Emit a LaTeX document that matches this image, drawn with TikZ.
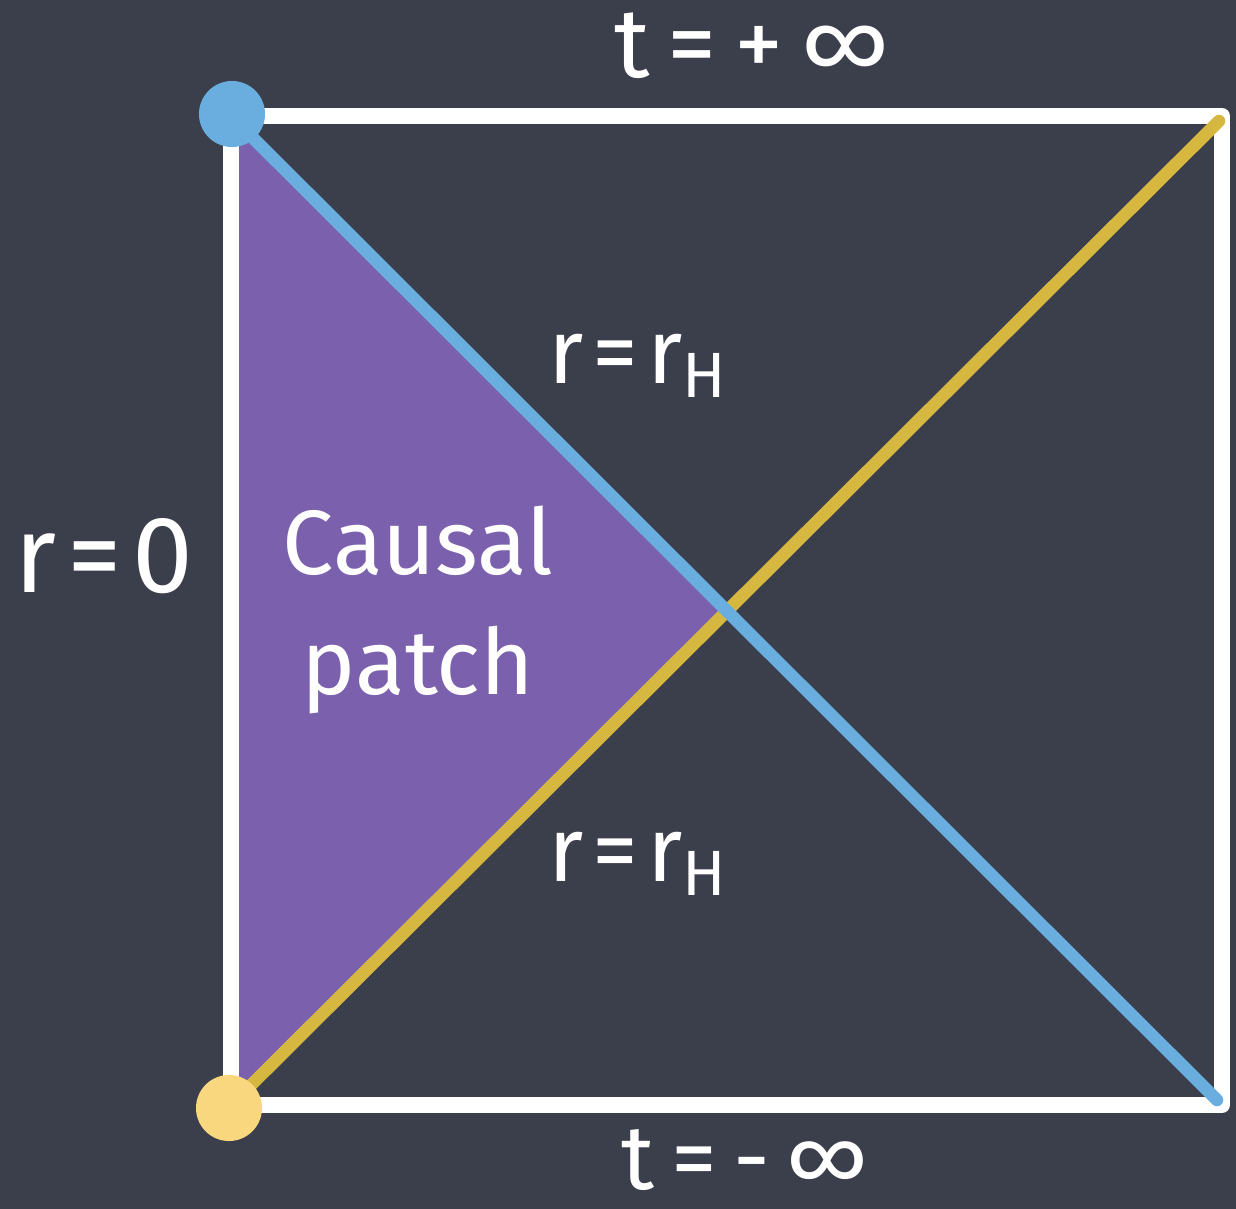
\documentclass[tikz,border=0pt]{standalone}
\usepackage{fontspec}
\setmainfont{Fira Sans}
\definecolor{board}{HTML}{3B3F4B}
\definecolor{chalkblue}{HTML}{6AAEE0}
\definecolor{chalkyellow}{HTML}{D6B840}
\definecolor{dotyellow}{HTML}{F9D77E}
\definecolor{patch}{HTML}{7B61AD}
\tikzset{
  frame/.style={draw=white, line width=1.6mm, line cap=round, line join=round},
  nullline/.style={line width=1.25mm, line cap=round},
  dot/.style={circle, minimum size=6.6mm, inner sep=0pt},
  lbl/.style={text=white, font=\fontsize{26}{30}\selectfont, inner sep=0pt},
  spaced/.style={font=\fontsize{#1}{30}\selectfont\addfontfeature{LetterSpace=18}},
}
\begin{document}
\begin{tikzpicture}[x=0.01cm, y=-0.01cm]
\fill[board] (0,0) rectangle (1236,1209);
\useasboundingbox (0,0) rectangle (1236,1209);
% corners
\coordinate (TL) at (231,116);
\coordinate (TR) at (1222,116);
\coordinate (BR) at (1222,1105);
\coordinate (BL) at (231,1105);
\coordinate (TRl) at (1219,121);
\coordinate (BRl) at (1217,1100);
\coordinate (X) at (726,608);
% patch
\fill[patch] (TL) -- (X) -- (BL) -- cycle;
% frame
\draw[frame] (TL) -- (TR) -- (BR) -- (BL) -- cycle;
% null lines
\draw[nullline, chalkyellow] (BL) -- (TRl);
\draw[nullline, chalkblue] (TL) -- (BRl);
% dots
\node[dot, fill=chalkblue] (bdot) at (232,114) {};
\node[dot, fill=dotyellow] (ydot) at (229,1108) {};
% labels
\node[lbl, spaced=28] (tp) at (752,46) {t=+∞};
\node[lbl, spaced=26] (tm) at (745,1160) {t=-∞};
\node[lbl, font=\fontsize{31}{34}\selectfont\addfontfeature{LetterSpace=10}] (r0) at (104,556) {r=0};
\node[lbl, font=\fontsize{26}{30}\selectfont\addfontfeature{LetterSpace=10}] (rh1) at (638,366) {r=r$_\mathrm{H}$};
\node[lbl, font=\fontsize{26}{30}\selectfont\addfontfeature{LetterSpace=10}] (rh2) at (638,864) {r=r$_\mathrm{H}$};
\node[lbl, align=center] (cp) at (418,610) {Causal\\[4pt]patch};
\end{tikzpicture}
\end{document}
